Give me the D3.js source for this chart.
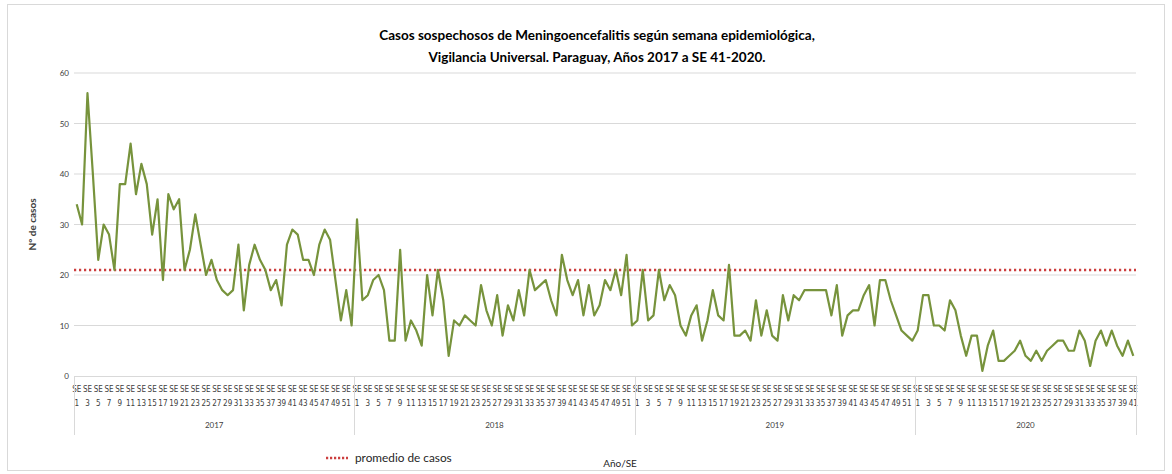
<!DOCTYPE html>
<html>
<head>
    <meta charset="utf-8">
    <title>Meningoencefalitis</title>
    <script type="text/javascript" src="https://cdn.jsdelivr.net/npm/d3@7"></script>
    <style>
        body { margin: 0; background: #fff; }
        .chart svg { display: block; }
        .tick-y { font-family: Lato, "Liberation Sans", sans-serif; font-size: 8px; fill: #404040; }
        .tick-x { font-family: "Liberation Sans Narrow", "DejaVu Sans Condensed", sans-serif; font-size: 8px; fill: #404040; }
    </style>
</head>
<body>
<div class="chart"></div>
<script type="text/javascript">
var width = 1172,
    height = 474;

// ======================
// data
// ======================
var years = [2017, 2018, 2019, 2020];
var casos2017 = [34, 30, 56, 40, 23, 30, 28, 21, 38, 38, 46, 36, 42, 38, 28, 35, 19, 36, 33, 35,
    21, 25, 32, 26, 20, 23, 19, 17, 16, 17, 26, 13, 22, 26, 23, 21, 17, 19, 14, 26,
    29, 28, 23, 23, 20, 26, 29, 27, 19, 11, 17, 10];
var casos2018 = [31, 15, 16, 19, 20, 17, 7, 7, 25, 7, 11, 9, 6, 20, 12, 21, 15, 4, 11, 10,
    12, 11, 10, 18, 13, 10, 16, 8, 14, 11, 17, 12, 21, 17, 18, 19, 15, 12, 24, 19,
    16, 19, 12, 18, 12, 14, 19, 17, 21, 16, 24, 10];
var casos2019 = [11, 21, 11, 12, 21, 15, 18, 16, 10, 8, 12, 14, 7, 11, 17, 12, 11, 22, 8, 8,
    9, 7, 15, 8, 13, 8, 7, 16, 11, 16, 15, 17, 17, 17, 17, 17, 12, 18, 8, 12,
    13, 13, 16, 18, 10, 19, 19, 15, 12, 9, 8, 7];
var casos2020 = [9, 16, 16, 10, 10, 9, 15, 13, 8, 4, 8, 8, 1, 6, 9, 3, 3, 4, 5, 7,
    4, 3, 5, 3, 5, 6, 7, 7, 5, 5, 9, 7, 2, 7, 9, 6, 9, 6, 4, 7, 4];
var promedio = 21;
var yTicks = [0, 10, 20, 30, 40, 50, 60];
var titulo = ['Casos sospechosos de Meningoencefalitis según semana epidemiológica,',
    'Vigilancia Universal. Paraguay, Años 2017 a SE 41-2020.'];

var casosPorAnio = [casos2017, casos2018, casos2019, casos2020];

// flatten to one row per week
var rows = [];
years.forEach(function (y, i) {
    casosPorAnio[i].forEach(function (v, j) {
        rows.push({year: y, week: j + 1, key: y + '-' + (j + 1), value: v});
    });
});

// ======================
// layout
// ======================
var plot = {left: 74, right: 1136, top: 73, bottom: 376};

var svg = d3.select('.chart')
        .append('svg')
        .attr('width', width)
        .attr('height', height);

svg.append('rect')
        .attr('x', 7.5).attr('y', 4.5)
        .attr('width', width - 15).attr('height', height - 8)
        .attr('fill', '#fff')
        .attr('stroke', '#d9d9d9');

var x = d3.scaleBand()
        .domain(rows.map(function (d) { return d.key; }))
        .range([plot.left, plot.right])
        .padding(0);
var bw = x.bandwidth();
var y = d3.scaleLinear()
        .domain([0, 60])
        .range([plot.bottom, plot.top]);

// gridlines
svg.append('g')
        .selectAll('line')
        .data(yTicks.filter(function (t) { return t > 0; }))
        .join('line')
        .attr('x1', plot.left)
        .attr('x2', plot.right)
        .attr('y1', function (d) { return y(d); })
        .attr('y2', function (d) { return y(d); })
        .attr('stroke', '#d9d9d9')
        .attr('stroke-width', 1);

// y axis labels
var yAxis = svg.append('g')
        .attr('transform', 'translate(' + (plot.left - 5) + ',0)')
        .call(d3.axisLeft(y).tickValues(yTicks).tickSize(0).tickPadding(0));
yAxis.select('.domain').remove();
yAxis.selectAll('text')
        .attr('class', 'tick-y')
        .attr('font-size', null)
        .attr('font-family', null)
        .attr('fill', null);

svg.append('text')
        .attr('transform', 'translate(36,' + ((plot.top + plot.bottom) / 2) + ') rotate(-90)')
        .attr('text-anchor', 'middle')
        .style('font-family', 'Lato, "Liberation Sans", sans-serif')
        .style('font-size', '10px')
        .style('font-weight', 'bold')
        .style('fill', '#404040')
        .text('N° de casos');

// x axis base line
svg.append('line')
        .attr('x1', plot.left).attr('x2', plot.right)
        .attr('y1', plot.bottom + 0.5).attr('y2', plot.bottom + 0.5)
        .attr('stroke', '#d9d9d9');

// week labels (odd weeks only)
var xl = svg.append('g')
        .selectAll('g')
        .data(rows.filter(function (d) { return d.week % 2 === 1; }))
        .join('g')
        .attr('transform', function (d) {
            return 'translate(' + (x(d.key) + bw / 2) + ',0)';
        });
xl.append('text')
        .attr('class', 'tick-x')
        .attr('y', plot.bottom + 16)
        .attr('text-anchor', 'middle')
        .text('SE');
xl.append('text')
        .attr('class', 'tick-x')
        .attr('y', plot.bottom + 30)
        .attr('text-anchor', 'middle')
        .text(function (d) { return d.week; });

// year groups: separators and labels
var yearInfo = years.map(function (yr, i) {
    var first = yr + '-1';
    var last = yr + '-' + casosPorAnio[i].length;
    return {year: yr, x0: x(first), x1: x(last) + bw};
});
svg.append('g')
        .selectAll('line')
        .data(yearInfo.map(function (d) { return d.x0; }).concat([plot.right]))
        .join('line')
        .attr('x1', function (d) { return Math.round(d) + 0.5; })
        .attr('x2', function (d) { return Math.round(d) + 0.5; })
        .attr('y1', plot.bottom)
        .attr('y2', plot.bottom + 59)
        .attr('stroke', '#d9d9d9');
svg.append('g')
        .selectAll('text')
        .data(yearInfo)
        .join('text')
        .attr('class', 'tick-y')
        .attr('x', function (d) { return (d.x0 + d.x1) / 2; })
        .attr('y', plot.bottom + 52)
        .attr('text-anchor', 'middle')
        .text(function (d) { return d.year; });

// average line
svg.append('line')
        .attr('x1', plot.left)
        .attr('x2', plot.right)
        .attr('y1', y(promedio))
        .attr('y2', y(promedio))
        .attr('stroke', '#cc3f3f')
        .attr('stroke-width', 2.5)
        .attr('stroke-dasharray', '2.2,2.8');

// series
var line = d3.line()
        .x(function (d) { return x(d.key) + bw / 2; })
        .y(function (d) { return y(d.value); });
svg.append('path')
        .datum(rows)
        .attr('d', line)
        .attr('fill', 'none')
        .attr('stroke', '#77933c')
        .attr('stroke-width', 2.2)
        .attr('stroke-linejoin', 'round');

// title
svg.append('g')
        .selectAll('text')
        .data(titulo)
        .join('text')
        .attr('x', 597)
        .attr('y', function (d, i) { return 40 + i * 22; })
        .attr('text-anchor', 'middle')
        .style('font-family', 'Lato, "Liberation Sans", sans-serif')
        .style('font-size', '13.5px')
        .style('font-weight', 'bold')
        .style('fill', '#000')
        .text(function (d) { return d; });

// legend
var lg = svg.append('g').attr('transform', 'translate(326,458)');
lg.append('line')
        .attr('x1', 0).attr('x2', 22)
        .attr('stroke', '#cc3f3f')
        .attr('stroke-width', 2.5)
        .attr('stroke-dasharray', '2.2,1.8');
lg.append('text')
        .attr('x', 29)
        .attr('y', 3.5)
        .style('font-family', 'Lato, "Liberation Sans", sans-serif')
        .style('font-size', '11.8px')
        .style('fill', '#262626')
        .text('promedio de casos');

svg.append('text')
        .attr('x', 620)
        .attr('y', 467)
        .attr('text-anchor', 'middle')
        .style('font-family', 'Lato, "Liberation Sans", sans-serif')
        .style('font-size', '10px')
        .style('fill', '#262626')
        .text('Año/SE');
</script>
</body>
</html>
